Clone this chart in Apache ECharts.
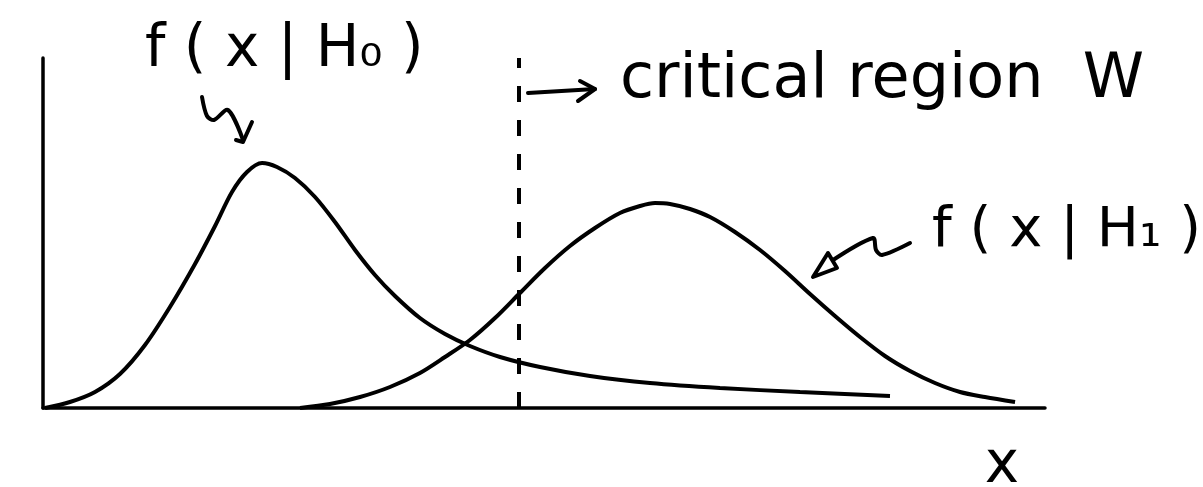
<!DOCTYPE html>
<html>
<head>
<meta charset="utf-8">
<script src="https://cdn.jsdelivr.net/npm/echarts@6/dist/echarts.min.js"></script>
<style>
  html, body { margin: 0; padding: 0; background: #fff; }
  #chart { width: 1203px; height: 487px; }
</style>
</head>
<body>
<div id="chart"></div>
<script>
// curve under H0 (x, density)
const h0X = [0.2, 2.69, 5.19, 7.68, 10.18, 12.67, 15.17, 17.17, 18.86, 20.36, 21.86, 23.35, 25.15, 27.15, 29.14, 31.14, 33.13, 35.13, 37.62, 40.12, 42.61, 45.61, 49.6, 54.59, 60.58, 67.56, 75.55, 84.53]
const h0Y = [0, 1.71, 4.57, 9.71, 18.0, 28.86, 41.14, 52.0, 61.71, 67.43, 70.0, 68.86, 65.71, 60.29, 53.14, 45.14, 38.0, 32.0, 25.71, 21.14, 17.71, 14.57, 11.71, 9.14, 7.14, 5.71, 4.57, 3.43]

// curve under H1
const h1X = [25.65, 28.64, 31.64, 34.63, 37.62, 40.12, 42.61, 45.11, 47.6, 50.1, 52.59, 55.09, 57.58, 59.58, 61.08, 62.57, 64.57, 66.57, 69.06, 71.56, 74.05, 76.55, 79.04, 81.54, 84.03, 86.53, 89.02, 91.52, 94.01, 97.01]
const h1Y = [0, 1.14, 3.14, 6.0, 10.0, 14.57, 19.43, 25.71, 32.86, 40.0, 46.29, 51.43, 55.71, 57.71, 58.57, 58.29, 56.86, 54.57, 50.29, 45.14, 39.14, 32.57, 26.29, 20.29, 14.86, 10.57, 7.14, 4.57, 3.14, 1.71]

// edge of the critical region W
const criticalX = 47.5

const labelH0 = 'f ( x | H\u2080 )'
const labelH1 = 'f ( x | H\u2081 )'
const labelW = 'critical region  W'
const labelX = 'x'

const zip = (xs, ys) => xs.map((x, i) => [x, ys[i]])
const hand = '"DejaVu Sans", sans-serif'
const ink = { stroke: '#000', lineWidth: 4, fill: null, lineCap: 'round', lineJoin: 'round' }

const chart = echarts.init(document.getElementById('chart'))
chart.setOption({
  animation: false,
  backgroundColor: '#fff',
  grid: { left: 43, right: 158, top: 58, bottom: 79 },
  xAxis: {
    type: 'value',
    min: 0,
    max: 100,
    axisLine: { lineStyle: { color: '#000', width: 3.5 } },
    axisTick: { show: false },
    axisLabel: { show: false },
    splitLine: { show: false }
  },
  yAxis: {
    type: 'value',
    min: 0,
    max: 100,
    axisLine: { show: true, lineStyle: { color: '#000', width: 3.5 } },
    axisTick: { show: false },
    axisLabel: { show: false },
    splitLine: { show: false }
  },
  series: [
    {
      name: 'H0',
      type: 'line',
      data: zip(h0X, h0Y),
      smooth: 0.3,
      symbol: 'none',
      lineStyle: { color: '#000', width: 4 },
      markLine: {
        silent: true,
        symbol: 'none',
        label: { show: false },
        lineStyle: { color: '#000', width: 4, type: [16, 18] },
        data: [{ xAxis: criticalX }]
      }
    },
    {
      name: 'H1',
      type: 'line',
      data: zip(h1X, h1Y),
      smooth: 0.3,
      symbol: 'none',
      lineStyle: { color: '#000', width: 4 }
    }
  ],
  graphic: [
    {
      type: 'text',
      style: { text: labelH0, x: 145, y: 80, textAlign: 'left', textVerticalAlign: 'bottom', font: '58px ' + hand, fill: '#000' }
    },
    {
      type: 'text',
      style: { text: labelW, x: 620, y: 112, textAlign: 'left', textVerticalAlign: 'bottom', font: '62px ' + hand, fill: '#000' }
    },
    {
      type: 'text',
      style: { text: labelH1, x: 1201, y: 259, textAlign: 'right', textVerticalAlign: 'bottom', font: '56px ' + hand, fill: '#000' }
    },
    {
      type: 'text',
      style: { text: labelX, x: 1002, y: 496, textAlign: 'center', textVerticalAlign: 'bottom', font: '58px ' + hand, fill: '#000' }
    },
    // squiggly pointer to the H0 curve
    {
      type: 'polyline',
      shape: { points: [[202, 97], [207, 116], [214, 120], [228, 110], [243, 140]], smooth: 0.3 },
      style: ink
    },
    {
      type: 'polyline',
      shape: { points: [[236, 140], [243, 142], [252, 122]] },
      style: ink
    },
    // arrow into the critical region
    {
      type: 'polyline',
      shape: { points: [[528, 93], [595, 89]] },
      style: ink
    },
    {
      type: 'polyline',
      shape: { points: [[580, 81], [595, 89], [578, 101]] },
      style: ink
    },
    // squiggly pointer to the H1 curve
    {
      type: 'polyline',
      shape: { points: [[910, 243], [882, 255], [876, 250], [873, 238], [830, 262]], smooth: 0.3 },
      style: ink
    },
    {
      type: 'polygon',
      shape: { points: [[828, 253], [813, 277], [837, 268]] },
      style: { stroke: '#000', lineWidth: 4, fill: '#fff', lineJoin: 'round' }
    }
  ]
})
</script>
</body>
</html>
